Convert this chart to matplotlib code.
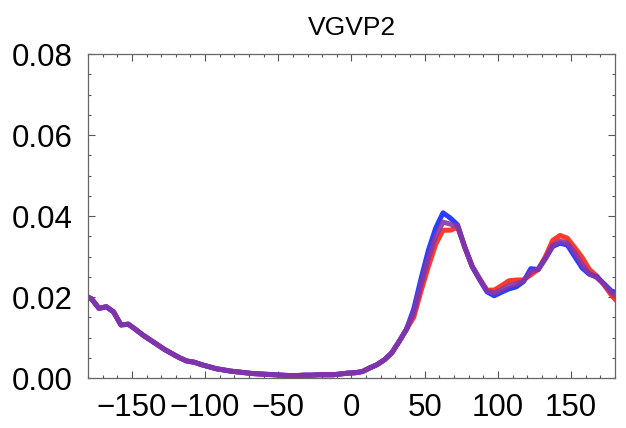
import numpy as np
import matplotlib
matplotlib.use("Agg")
import matplotlib.pyplot as plt
from matplotlib.ticker import MultipleLocator

plt.rcParams["font.family"] = ["Liberation Sans", "DejaVu Sans"]

# 각도(도) — 5도 간격 구간 중심 + 양 끝점
angle = [-180] + [-177.5 + 5 * k for k in range(72)] + [180]

# 왼쪽 구간(-180 ~ 40)은 세 계열이 거의 겹침
common_left = [
    0.0200, 0.0195, 0.0172, 0.0176, 0.0163, 0.0131, 0.0133, 0.0120, 0.0106,
    0.0094, 0.0082, 0.0070, 0.0060, 0.0050, 0.0042, 0.0039, 0.0033, 0.0028,
    0.0023, 0.0020, 0.0017, 0.0015, 0.0013, 0.0011, 0.0010, 0.0009, 0.0008,
    0.0007, 0.0006, 0.0006, 0.0007, 0.0007, 0.0008, 0.0008, 0.0008, 0.0010,
    0.0012, 0.0013, 0.0016, 0.0025, 0.0033, 0.0045, 0.0062, 0.0090, 0.0120,
]
# 42.5 ~ 180
red_right = [
    0.0150, 0.0215, 0.0275, 0.0330, 0.0365, 0.0365, 0.0372, 0.0322, 0.0275,
    0.0245, 0.0217, 0.0217, 0.0228, 0.0240, 0.0242, 0.0242, 0.0255, 0.0268,
    0.0300, 0.0340, 0.0352, 0.0345, 0.0322, 0.0298, 0.0268, 0.0252, 0.0230,
    0.0205, 0.0195,
]
purple_right = [
    0.0160, 0.0230, 0.0295, 0.0350, 0.0385, 0.0380, 0.0375, 0.0322, 0.0275,
    0.0245, 0.0215, 0.0210, 0.0218, 0.0228, 0.0232, 0.0240, 0.0262, 0.0268,
    0.0295, 0.0328, 0.0338, 0.0333, 0.0310, 0.0280, 0.0258, 0.0248, 0.0232,
    0.0210, 0.0205,
]
blue_right = [
    0.0170, 0.0245, 0.0315, 0.0370, 0.0408, 0.0395, 0.0378, 0.0322, 0.0275,
    0.0243, 0.0213, 0.0203, 0.0212, 0.0220, 0.0225, 0.0238, 0.0270, 0.0268,
    0.0295, 0.0325, 0.0333, 0.0328, 0.0300, 0.0272, 0.0256, 0.0250, 0.0233,
    0.0215, 0.0212,
]

series = [
    (common_left + red_right, "#ff2410"),
    (common_left + blue_right, "#1428ff"),
    (common_left + purple_right, "#8a36a6"),
]

fig = plt.figure(figsize=(6.26, 4.28), dpi=100)
ax = fig.add_axes([0.1406, 0.1168, 0.8418, 0.757])
for vals, col in series:
    ax.plot(angle, vals, color=col, lw=3.6, alpha=0.9, solid_joinstyle="round")

ax.set_xlim(-180, 180)
ax.set_ylim(0, 0.08)
ax.xaxis.set_major_locator(MultipleLocator(50))
ax.xaxis.set_minor_locator(MultipleLocator(10))
ax.yaxis.set_major_locator(MultipleLocator(0.02))
ax.yaxis.set_minor_locator(MultipleLocator(0.005))
ax.yaxis.set_major_formatter(plt.FuncFormatter(lambda v, p: f"{v:.2f}"))
ax.tick_params(which="both", direction="in", top=True, right=True, color="#555555", width=0.8)
ax.tick_params(which="major", length=5, labelsize=22.5)
ax.tick_params(which="minor", length=2.5)
ax.tick_params(axis="y", which="major", pad=11)
ax.tick_params(axis="x", which="major", pad=11)
for s in ax.spines.values():
    s.set_color("#666666")
    s.set_linewidth(0.9)
ax.set_title("VGVP2", fontsize=19, pad=14)

fig.savefig("out.png", dpi=100)
